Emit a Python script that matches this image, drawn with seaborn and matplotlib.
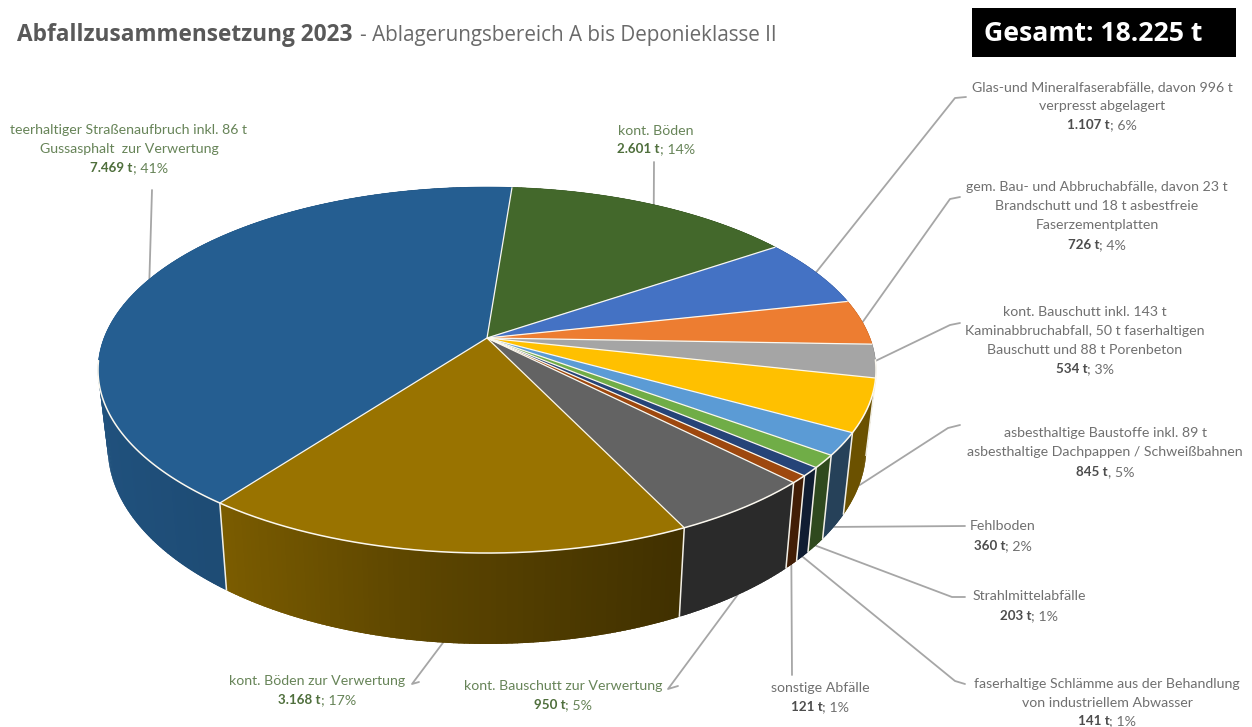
import numpy as np
import matplotlib
matplotlib.use("Agg")
import matplotlib.pyplot as plt
import seaborn as sns

# Waste quantities in tonnes, clockwise from the "kont. Böden" slice
values = [2601, 1107, 726, 534, 845, 360, 203, 141, 121, 950, 3168, 7469]
separators = ["; ", "; ", "; ", "; ", ", ", "; ", "; ", "; ", "; ", "; ", "; ", "; "]
label_lines = [
    ["kont. Böden"],
    ["Glas-und Mineralfaserabfälle, davon 996 t", "verpresst abgelagert"],
    ["gem. Bau- und Abbruchabfälle, davon 23 t", "Brandschutt und 18 t asbestfreie", "Faserzementplatten"],
    ["kont. Bauschutt inkl. 143 t", "Kaminabbruchabfall, 50 t faserhaltigen", "Bauschutt und 88 t Porenbeton"],
    ["asbesthaltige Baustoffe inkl. 89 t", "asbesthaltige Dachpappen / Schweißbahnen"],
    ["Fehlboden"],
    ["Strahlmittelabfälle"],
    ["faserhaltige Schlämme aus der Behandlung", "von industriellem Abwasser"],
    ["sonstige Abfälle"],
    ["kont. Bauschutt zur Verwertung"],
    ["kont. Böden zur Verwertung"],
    ["teerhaltiger Straßenaufbruch inkl. 86 t", "Gussasphalt  zur Verwertung"],
]
slice_colors = ["#43682b", "#4472c4", "#ed7d31", "#a5a5a5", "#ffc000", "#5b9bd5",
                "#70ad47", "#264478", "#9e480e", "#636363", "#997300", "#255e91"]
recycled = [True, False, False, False, False, False, False, False, False, True, True, True]
title_main = "Abfallzusammensetzung 2023"
title_sub = "- Ablagerungsbereich A bis Deponieklasse II"
total_text = "Gesamt: 18.225 t"

# Label layout: centre x and the centre y of each text line
label_x = [656, 1102, 1097, 1085, 1105, 1003, 1029, 1107, 820, 563, 317, 129]
label_y = [[131, 149], [87, 106, 125], [187, 206, 225, 245], [312, 331, 350, 369],
           [433, 452, 472], [526, 546], [596, 616], [684, 703, 721], [688, 707],
           [686, 705], [681, 700], [130, 149, 168]]
# Leader line start points next to each label
leader_start = [[(654, 162)], [(966, 97), (955, 98)], [(960, 197), (950, 199)],
                [(960, 323), (950, 325)], [(960, 425), (948, 428)], [(965, 526)],
                [(965, 597), (952, 597)], [(965, 684), (955, 681)], [(792, 675)],
                [(678, 686), (668, 689)], [(419, 682), (412, 684)], [(152, 190)]]

# Pie geometry in figure pixels
CX, CY = 487.0, 338.0
A, B, K = 383.0, 177.4, 0.175
DEPTH, SHRINK = 75.0, 0.975


def rim_top(theta):
    u, v = np.sin(theta), -np.cos(theta)
    w = 1 - K * v
    return CX + A * u / w, CY + B * v / w


def rim_bottom(theta):
    u, v = np.sin(theta), -np.cos(theta)
    w = 1 - K * v
    return CX + SHRINK * A * u / w, CY + B * v / w + DEPTH / w


def side_shade(x):
    return np.interp(x, [100, 224, 400, 680, 880], [0.86, 0.80, 0.62, 0.42, 0.42])


sns.set_theme(style="white")
plt.rcParams["font.family"] = ["Lato", "DejaVu Sans"]
palette = sns.color_palette(slice_colors)

fig = plt.figure(figsize=(12.52, 7.27), dpi=100, facecolor="white")
ax = fig.add_axes([0, 0, 1, 1])

# Let pie() turn the values into angles, then redraw each wedge in perspective
wedges, _ = ax.pie(values, startangle=90 - 4.4, counterclock=False)
spans = []
for wedge in wedges:
    spans.append((np.deg2rad(90 - wedge.theta2), np.deg2rad(90 - wedge.theta1)))
    wedge.remove()
ax.set_aspect("auto")
ax.set_xlim(0, 1252)
ax.set_ylim(727, 0)
ax.axis("off")

# Side wall, built from thin overlapping shaded strips, painted back to front
strips = []
for (t0, t1), color in zip(spans, palette):
    n = max(2, int(np.degrees(t1 - t0) * 1.5))
    edges = np.linspace(t0, t1, n + 1)
    pad = (edges[1] - edges[0]) * 0.6
    for a, b in zip(edges[:-1], edges[1:]):
        strips.append((-np.cos((a + b) / 2), max(a - pad, t0), min(b + pad, t1), color))
strips.sort(key=lambda s: s[0])
for _, a, b, color in strips:
    xa, ya = rim_top(a)
    xb, yb = rim_top(b)
    xc, yc = rim_bottom(b)
    xd, yd = rim_bottom(a)
    face = tuple(np.array(color) * side_shade((xa + xb) / 2))
    ax.fill([xa, xb, xc, xd], [ya, yb, yc, yd], facecolor=face, edgecolor="none", lw=0, zorder=2)

# Pale separators on the front wall
for t0, t1 in spans:
    if -np.cos(t0) > 0.2:
        xa, ya = rim_top(t0)
        xb, yb = rim_bottom(t0)
        ax.plot([xa, xb], [ya, yb], color="#f2efe6", lw=1.1, zorder=3, solid_capstyle="butt")

# Top face of every slice
for (t0, t1), color in zip(spans, palette):
    arc = np.linspace(t0, t1, 200)
    xs, ys = rim_top(arc)
    ax.fill(np.r_[CX, xs], np.r_[CY, ys], facecolor=color, edgecolor=color, lw=0.4, zorder=4)
for (t0, t1), color in zip(spans, palette):
    arc = np.linspace(t0, t1, 200)
    xs, ys = rim_top(arc)
    ax.plot([CX, xs[0]], [CY, ys[0]], color="#fbf8ef", lw=0.9, zorder=5, solid_capstyle="butt")
    front = -np.cos(arc) > 0.12
    if front.any():
        ax.plot(xs[front], ys[front], color="#fbf8ef", lw=1.1, zorder=5)

# Leader lines run from the label to the rim at each slice's mid angle
for (t0, t1), start in zip(spans, leader_start):
    mid = (t0 + t1) / 2
    end = rim_bottom(mid) if -np.cos(mid) > 0.2 else rim_top(mid)
    pts = np.array(start + [end])
    ax.plot(pts[:, 0], pts[:, 1], color="#a6a6a6", lw=1.3, zorder=1, solid_joinstyle="round")

renderer = fig.canvas.get_renderer()
FS = 10.2
total = sum(values)
for lines, ys, x, val, sep, green in zip(label_lines, label_y, label_x, values, separators, recycled):
    text_col = "#678458" if green else "#707070"
    bold_col = "#4f6f3c" if green else "#4d4d4d"
    for line, y in zip(lines, ys):
        ax.text(x, y, line, ha="center", va="center", fontsize=FS, color=text_col, zorder=6)
    # Value line: bold amount followed by the regular percentage
    bold = f"{val:,}".replace(",", ".") + " t"
    rest = f"{sep}{round(val / total * 100)}%"
    tb = ax.text(0, ys[-1], bold, ha="left", va="center", fontsize=FS - 0.6, fontweight="bold",
                 color=bold_col, zorder=6)
    tr = ax.text(0, ys[-1], rest.replace(" ", "\u00a0"), ha="left", va="center", fontsize=FS,
                 color=text_col, zorder=6)
    wb = tb.get_window_extent(renderer).width
    wr = tr.get_window_extent(renderer).width
    left = x - (wb + wr) / 2
    tb.set_x(left)
    tr.set_x(left + wb)

# Heading
t1 = ax.text(17, 35, title_main, ha="left", va="center", fontsize=16.25, fontweight="bold",
             family="Open Sans", color="#595959")
w1 = t1.get_window_extent(renderer).width
ax.text(360, 36, title_sub, ha="left", va="center", fontsize=14.9,
        family="Open Sans", color="#6a6a6a")

# Total box
ax.fill([972, 1236, 1236, 972], [8, 8, 57, 57], color="black", lw=0, zorder=6)
ax.text(1093, 34, total_text, ha="center", va="center", fontsize=19.2, fontweight="bold",
        family="Open Sans", color="white", zorder=7)

fig.savefig("out.png", dpi=100, facecolor="white")
